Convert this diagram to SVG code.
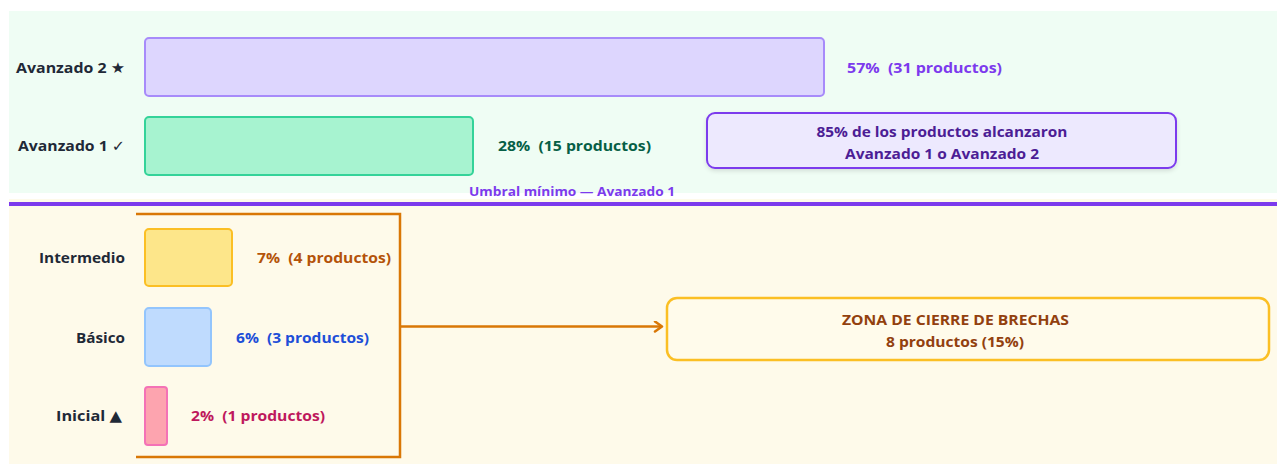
<svg xmlns="http://www.w3.org/2000/svg" width="1277" height="464" viewBox="0 0 1277 464">
<style>
.lbl{font-family:"Open Sans","Noto Sans","DejaVu Sans",sans-serif;font-weight:700;font-size:15px;fill:#1f2937}
.val{font-family:"Open Sans","Noto Sans",sans-serif;font-weight:700;font-size:15px;white-space:pre}
.bar{stroke-width:2}
.sm{font-family:"Open Sans","Noto Sans",sans-serif;font-weight:700;font-size:12px;fill:#7c3aed}
</style>
<defs>
<marker id="arr" markerWidth="12" markerHeight="12" refX="9" refY="6" orient="auto" markerUnits="userSpaceOnUse">
<path d="M2,1 L9,6 L2,11" fill="none" stroke="#d97706" stroke-width="2.5" stroke-linecap="round" stroke-linejoin="round"/>
</marker>
<filter id="sh" x="-5%" y="-20%" width="110%" height="150%">
<feDropShadow dx="0" dy="2" stdDeviation="2" flood-color="#000" flood-opacity="0.12"/>
</filter>
</defs>
<rect x="0" y="0" width="1277" height="464" fill="#ffffff"/>
<rect id="bg-top" x="9" y="11" width="1268" height="182" fill="#effdf4"/>
<rect id="bg-bottom" x="9" y="199" width="1268" height="265" fill="#fefaea"/>
<line x1="9" y1="204" x2="1277" y2="204" stroke="#7c3aed" stroke-width="4"/>

<g id="avanzado2">
<text class="lbl" x="125" y="73" text-anchor="end" textLength="109" lengthAdjust="spacingAndGlyphs">Avanzado 2 ★</text>
<rect class="bar" x="145" y="38" width="679" height="58" rx="4" fill="#ddd6fe" stroke="#a78bfa"/>
<text class="val" x="847" y="73" fill="#7c3aed" textLength="155" lengthAdjust="spacingAndGlyphs" xml:space="preserve">57%  (31 productos)</text>
</g>
<g id="avanzado1">
<text class="lbl" x="125" y="151" text-anchor="end" textLength="107" lengthAdjust="spacingAndGlyphs">Avanzado 1 ✓</text>
<rect class="bar" x="145" y="117" width="328" height="58" rx="4" fill="#a7f3d0" stroke="#34d399"/>
<text class="val" x="498" y="151" fill="#065f46" textLength="153" lengthAdjust="spacingAndGlyphs" xml:space="preserve">28%  (15 productos)</text>
</g>
<g id="callout">
<rect x="707" y="113" width="469" height="55" rx="8" fill="#ede9fe" stroke="#7c3aed" stroke-width="2" filter="url(#sh)"/>
<text class="val" x="942" y="137" fill="#4c1d95" text-anchor="middle" textLength="251" lengthAdjust="spacingAndGlyphs">85% de los productos alcanzaron</text>
<text class="val" x="942" y="159" fill="#4c1d95" text-anchor="middle" textLength="194" lengthAdjust="spacingAndGlyphs">Avanzado 1 o Avanzado 2</text>
</g>
<g id="umbral">
<text class="sm" x="572" y="196" text-anchor="middle" textLength="206" lengthAdjust="spacingAndGlyphs">Umbral mínimo — Avanzado 1</text>
</g>

<g id="intermedio">
<text class="lbl" x="125" y="263" text-anchor="end" textLength="86" lengthAdjust="spacingAndGlyphs">Intermedio</text>
<rect class="bar" x="145" y="229" width="87" height="57" rx="4" fill="#fde68a" stroke="#fbbf24"/>
<text class="val" x="257" y="263" fill="#b45309" textLength="134" lengthAdjust="spacingAndGlyphs" xml:space="preserve">7%  (4 productos)</text>
</g>
<g id="basico">
<text class="lbl" x="125" y="343" text-anchor="end" textLength="49" lengthAdjust="spacingAndGlyphs">Básico</text>
<rect class="bar" x="145" y="308" width="66" height="58" rx="4" fill="#bfdbfe" stroke="#93c5fd"/>
<text class="val" x="236" y="343" fill="#1d4ed8" textLength="133" lengthAdjust="spacingAndGlyphs" xml:space="preserve">6%  (3 productos)</text>
</g>
<g id="inicial">
<text class="lbl" x="122" y="421" text-anchor="end" textLength="66" lengthAdjust="spacingAndGlyphs">Inicial ▲</text>
<rect class="bar" x="145" y="387" width="22" height="58" rx="3" fill="#fda4af" stroke="#f472b6"/>
<text class="val" x="191" y="421" fill="#be185d" textLength="134" lengthAdjust="spacingAndGlyphs" xml:space="preserve">2%  (1 productos)</text>
</g>
<g id="zona">
<rect x="667" y="298" width="602" height="62" rx="10" fill="#fffbeb" stroke="#fbbf24" stroke-width="2.5"/>
<text class="val" x="955.5" y="325" fill="#92400e" text-anchor="middle" textLength="227" lengthAdjust="spacingAndGlyphs">ZONA DE CIERRE DE BRECHAS</text>
<text class="val" x="955" y="347" fill="#92400e" text-anchor="middle" textLength="138" lengthAdjust="spacingAndGlyphs">8 productos (15%)</text>
</g>

<g id="connectors" fill="none" stroke="#d97706" stroke-width="2.5">
<path d="M136,214 L400,214 L400,457 L136,457"/>
<line x1="400" y1="326.5" x2="662" y2="326.5" marker-end="url(#arr)"/>
</g>
</svg>
